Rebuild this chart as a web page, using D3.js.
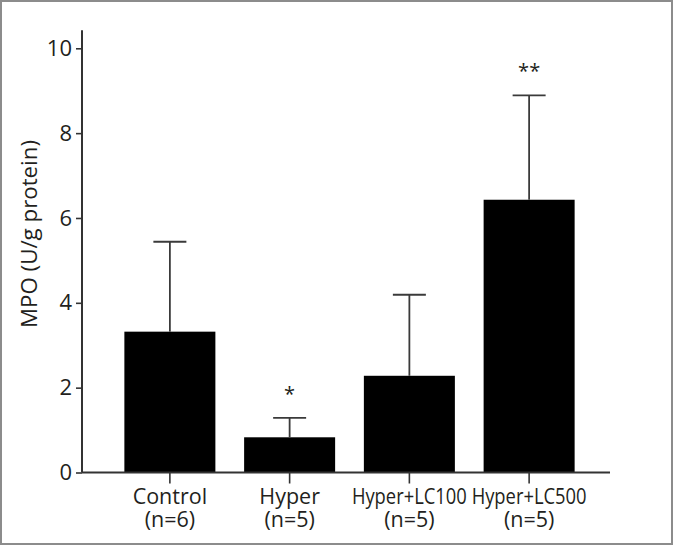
<!DOCTYPE html>
<html>
<head>
<meta charset="utf-8">
<script src="https://cdn.jsdelivr.net/npm/d3@7"></script>
<style>
  html, body { margin: 0; padding: 0; background: #fff; }
  svg { display: block; }
  text { font-family: "Open Sans", "Noto Sans", sans-serif; fill: #231f20; }
</style>
</head>
<body>
<svg id="chart" width="674" height="547"></svg>
<script>
// ---- data ----
const categories = ["Control", "Hyper", "Hyper+LC100", "Hyper+LC500"];
const groupSizes = ["(n=6)", "(n=5)", "(n=5)", "(n=5)"];
const means = [3.32, 0.83, 2.28, 6.43];
const errorTops = [5.44, 1.29, 4.19, 8.89];
const significance = ["", "*", "", "**"];
const yTicks = [0, 2, 4, 6, 8, 10];
const yLabel = "MPO (U/g protein)";

// ---- layout ----
const W = 674, H = 547;
const svg = d3.select("#chart");

// frame
svg.append("rect")
  .attr("x", 1).attr("y", 1).attr("width", W - 3).attr("height", H - 4)
  .attr("fill", "#fff").attr("stroke", "#8c8c8c").attr("stroke-width", 2);

const y = d3.scaleLinear().domain([0, 10]).range([472.5, 48.3]);
const x = d3.scaleBand().domain(categories).range([110, 589]).paddingInner(0.24).paddingOuter(0.12);

const axisColor = "#333";

// bars
svg.append("g").selectAll("rect")
  .data(categories)
  .join("rect")
  .attr("x", d => x(d))
  .attr("width", x.bandwidth())
  .attr("y", (d, i) => y(means[i]))
  .attr("height", (d, i) => y(0) - y(means[i]))
  .attr("fill", "#000");

// error bars
const eb = svg.append("g").attr("stroke", "#3a3a3a").attr("stroke-width", 1.8);
categories.forEach((c, i) => {
  const cx = x(c) + x.bandwidth() / 2;
  eb.append("line").attr("x1", cx).attr("x2", cx).attr("y1", y(means[i])).attr("y2", y(errorTops[i]));
  eb.append("line").attr("x1", cx - 16.5).attr("x2", cx + 16.5).attr("y1", y(errorTops[i])).attr("y2", y(errorTops[i]));
});

// significance marks
svg.append("g").selectAll("text")
  .data(categories)
  .join("text")
  .attr("x", d => x(d) + x.bandwidth() / 2)
  .attr("y", (d, i) => y(errorTops[i]) - 17)
  .attr("text-anchor", "middle")
  .attr("font-size", 20)
  .attr("fill", "#333")
  .text((d, i) => significance[i]);

// y axis
const yAxis = svg.append("g").attr("transform", "translate(82,0)")
  .call(d3.axisLeft(y).tickValues(yTicks).tickSize(6).tickSizeOuter(0).tickPadding(4).tickFormat(d3.format("d")));
yAxis.select(".domain").remove();
yAxis.selectAll(".tick line").attr("stroke", axisColor).attr("stroke-width", 1.6);
yAxis.selectAll(".tick text").attr("font-size", 22).attr("fill", "#231f20")
  .attr("font-family", "'Open Sans', 'Noto Sans', sans-serif");
svg.append("line").attr("x1", 82).attr("x2", 82).attr("y1", y(0)).attr("y2", y(10) - 18)
  .attr("stroke", axisColor).attr("stroke-width", 2);

// x axis
svg.append("line").attr("x1", 82).attr("x2", 610).attr("y1", y(0)).attr("y2", y(0))
  .attr("stroke", axisColor).attr("stroke-width", 2);
const xAxis = svg.append("g").attr("transform", `translate(0,${y(0)})`)
  .call(d3.axisBottom(x).tickSize(11).tickSizeOuter(0).tickFormat(""));
xAxis.select(".domain").remove();
xAxis.selectAll(".tick line").attr("stroke", axisColor).attr("stroke-width", 1.6);

// category labels (two lines)
const maxLabelWidth = 115;
function fit(sel) {
  sel.each(function () {
    const w = this.getComputedTextLength();
    if (w > maxLabelWidth) {
      d3.select(this).attr("textLength", maxLabelWidth).attr("lengthAdjust", "spacingAndGlyphs");
    }
  });
}
const labG = svg.append("g").attr("text-anchor", "middle").attr("font-size", 21.5);
labG.selectAll("text.l1")
  .data(categories)
  .join("text").attr("class", "l1")
  .attr("x", d => x(d) + x.bandwidth() / 2)
  .attr("y", 504.3)
  .text(d => d)
  .call(fit);
labG.selectAll("text.l2")
  .data(categories)
  .join("text").attr("class", "l2")
  .attr("x", d => x(d) + x.bandwidth() / 2)
  .attr("y", 526.7)
  .text((d, i) => groupSizes[i]);

// y label
svg.append("text")
  .attr("transform", "translate(36.5,234) rotate(-90)")
  .attr("text-anchor", "middle")
  .attr("font-size", 21.5)
  .attr("textLength", 188)
  .attr("lengthAdjust", "spacingAndGlyphs")
  .text(yLabel);
</script>
</body>
</html>
